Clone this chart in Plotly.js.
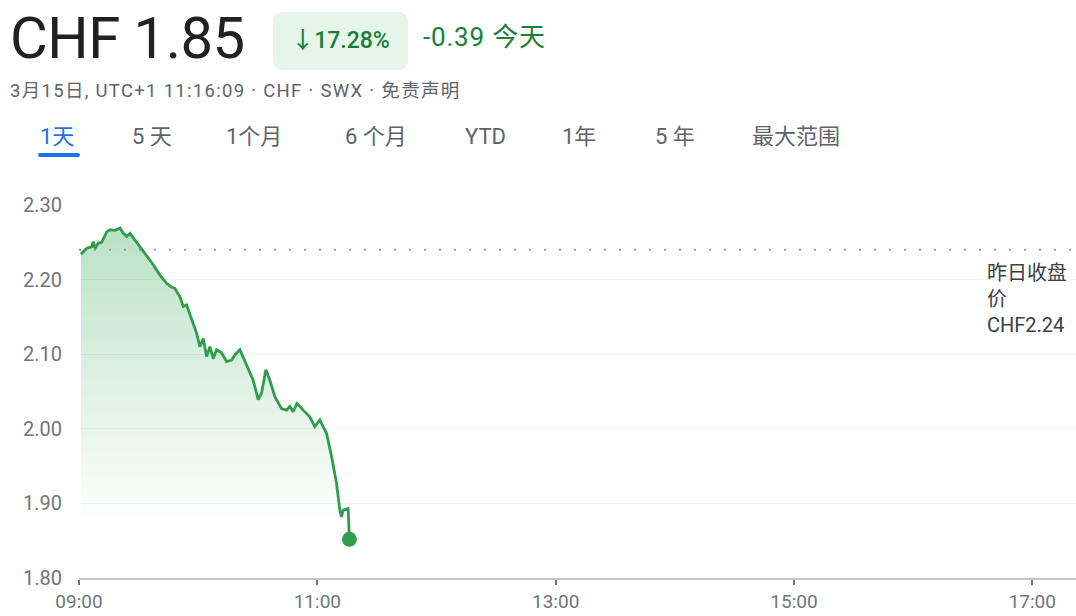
<!DOCTYPE html>
<html>
<head>
<meta charset="utf-8">
<script src="https://cdn.plot.ly/plotly-3.0.1.min.js"></script>
<style>
  html,body{margin:0;padding:0;background:#fff;width:1076px;height:616px;overflow:hidden;font-family:Roboto,'Noto Sans CJK SC',sans-serif;}
  #chart{position:absolute;left:0;top:0;width:1076px;height:616px;}
  .abs{position:absolute;white-space:nowrap;}
  #price{left:10px;top:4px;font-size:58px;color:#202124;letter-spacing:-0.5px;}
  #badge{left:273px;top:12px;width:135px;height:58px;border-radius:9px;background:#e6f4ea;color:#188038;font-size:23px;font-weight:500;line-height:58px;text-align:center;}
  #chg{left:423px;top:22px;font-size:26px;line-height:30px;color:#188038;letter-spacing:0.8px;}
  #sub{left:10px;top:80px;font-size:18.5px;line-height:22px;color:#5f6368;letter-spacing:1.3px;}
  .tab{top:124px;font-size:22px;line-height:26px;color:#5f6368;}
  #t0{color:#1a73e8;}
  #ul{left:38px;top:153px;width:42px;height:4px;border-radius:2px;background:#1a73e8;}
</style>
</head>
<body>
<div id="chart"></div>
<div class="abs" id="price"></div>
<div class="abs" id="badge"></div>
<div class="abs" id="chg"></div>
<div class="abs" id="sub"></div>
<div id="tabs"></div>
<div class="abs" id="ul"></div>
<script>
// ---- data ----
const headerPrice = "CHF 1.85";
const pctChange = "↓17.28%";
const absChange = "-0.39 今天";
const subtitle = "3月15日, UTC+1 11:16:09 · CHF · SWX · 免责声明";
const tabLabels = ["1天", "5 天", "1个月", "6 个月", "YTD", "1年", "5 年", "最大范围"];
const tabX = [40, 132, 226, 345, 465, 562, 655, 752];

const times = ["09:01:00","09:02:10","09:03:52","09:06:23","09:07:12","09:08:03","09:09:43","09:11:25","09:13:56","09:15:36",
  "09:18:07","09:20:38","09:22:17","09:24:00","09:25:40","09:28:11","09:30:41","09:34:04","09:37:23","09:40:45",
  "09:44:08","09:46:38","09:48:18","09:50:49","09:52:29","09:54:11","09:56:42","09:59:13","10:00:53","10:02:32",
  "10:04:15","10:05:55","10:07:34","10:09:17","10:11:48","10:14:19","10:16:50","10:18:29","10:21:01","10:22:40",
  "10:25:11","10:27:42","10:30:13","10:31:55","10:34:05","10:36:06","10:38:37","10:41:59","10:44:30","10:46:10",
  "10:47:49","10:49:50","10:52:51","10:56:14","10:58:44","11:01:16","11:04:38","11:07:09","11:09:40","11:11:19",
  "11:12:11","11:12:59","11:15:30","11:16:09"];
const prices = [2.234,2.237,2.242,2.244,2.251,2.242,2.249,2.250,2.264,2.267,
  2.266,2.269,2.262,2.258,2.262,2.253,2.244,2.231,2.220,2.206,
  2.195,2.190,2.188,2.177,2.164,2.166,2.148,2.128,2.110,2.121,
  2.097,2.110,2.094,2.106,2.102,2.090,2.092,2.099,2.106,2.096,
  2.079,2.065,2.039,2.048,2.079,2.065,2.043,2.027,2.025,2.030,
  2.023,2.034,2.025,2.016,2.003,2.012,1.994,1.963,1.927,1.891,
  1.882,1.891,1.893,1.852];
const prevClose = 2.24;
const prevCloseLabel = "昨日收盘<br>价<br>CHF2.24";
const yTicks = [1.80, 1.90, 2.00, 2.10, 2.20, 2.30];
const xTickTimes = ["09:00","11:00","13:00","15:00","17:00"];
const day = "2023-03-15 ";

// ---- header ----
document.getElementById('price').textContent = headerPrice;
document.getElementById('badge').textContent = pctChange;
document.getElementById('chg').textContent = absChange;
document.getElementById('sub').textContent = subtitle;
const tabs = document.getElementById('tabs');
tabLabels.forEach((t,i)=>{
  const d = document.createElement('div');
  d.className = 'abs tab';
  if(i===0) d.id='t0';
  d.style.left = tabX[i]+'px';
  d.textContent = t;
  tabs.appendChild(d);
});

// ---- chart ----
const xs = times.map(t => day + t);
const green = '#2e9e4c';
const font = "Roboto, 'Noto Sans CJK SC', sans-serif";

const traces = [
  {
    x: xs, y: prices, type: 'scatter', mode: 'lines',
    line: {color: green, width: 2.8},
    fill: 'tozeroy',
    fillgradient: {type: 'vertical', start: 1.87, stop: 2.27,
      colorscale: [[0, 'rgba(52,168,83,0)'], [1, 'rgba(52,168,83,0.34)']]},
    hoverinfo: 'skip'
  },
  {
    x: [xs[xs.length-1]], y: [prices[prices.length-1]], type: 'scatter', mode: 'markers',
    marker: {color: green, size: 15}, hoverinfo: 'skip'
  }
];

const layout = {
  width: 1076, height: 616,
  margin: {l: 79, r: 0, t: 205, b: 38},
  paper_bgcolor: 'rgba(0,0,0,0)', plot_bgcolor: 'rgba(0,0,0,0)',
  showlegend: false,
  font: {family: font, color: '#70757a', size: 19},
  xaxis: {
    type: 'date',
    range: [day + '09:00', day + '17:22'],
    tickvals: xTickTimes.map(t => day + t),
    ticktext: xTickTimes,
    showgrid: false, zeroline: false,
    showline: true, linecolor: '#c4c7c5', linewidth: 1.5,
    ticks: 'outside', ticklen: 5, tickwidth: 2, tickcolor: '#70757a',
    ticklabelstandoff: 1,
    tickfont: {size: 19, color: '#70757a'},
    fixedrange: true
  },
  yaxis: {
    range: [1.80, 2.30],
    tickvals: yTicks,
    ticktext: yTicks.map(v => v.toFixed(2)),
    showgrid: true, gridcolor: '#f1f3f4', gridwidth: 1,
    zeroline: false, showline: false,
    ticks: 'outside', ticklen: 12, tickcolor: 'rgba(0,0,0,0)',
    tickfont: {size: 20, color: '#70757a'},
    fixedrange: true
  },
  shapes: [
    {type: 'line', xref: 'paper', x0: 0, x1: 0.995, yref: 'y', y0: prevClose, y1: prevClose,
     line: {color: '#9aa0a6', width: 2, dash: '2px,13px'}, layer: 'below'}
  ],
  annotations: [
    {xref: 'paper', yref: 'paper', x: 0.909, y: 0.855, xanchor: 'left', yanchor: 'top',
     text: prevCloseLabel, showarrow: false, align: 'left',
     font: {family: font, size: 20, color: '#3c4043'}}
  ]
};

Plotly.newPlot('chart', traces, layout, {staticPlot: true, displayModeBar: false});
</script>
</body>
</html>
